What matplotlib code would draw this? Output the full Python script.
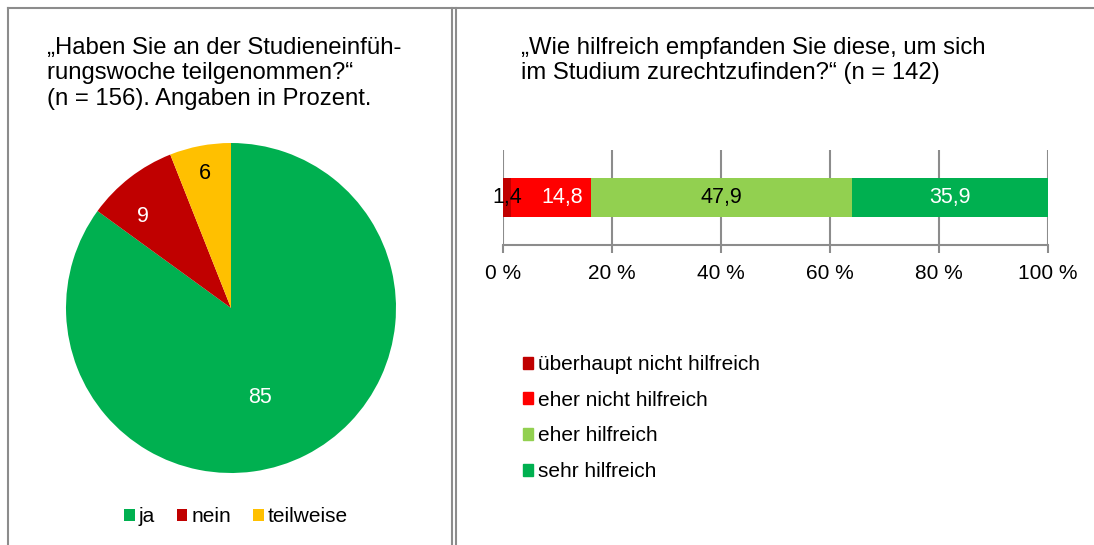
#!/usr/bin/env python
# coding: utf-8
import numpy as np
import matplotlib
matplotlib.use("Agg")
import matplotlib.pyplot as plt
from matplotlib.patches import Patch
from matplotlib.lines import Line2D

plt.rcParams['font.family'] = ['Liberation Sans', 'DejaVu Sans']

# pie data
pie_labels = ["ja", "nein", "teilweise"]
pie_values = [85, 9, 6]
pie_colors = ["#00B050", "#C00000", "#FFC000"]
pie_text_colors = ["white", "white", "black"]

# bar data
bar_labels = ["überhaupt nicht hilfreich", "eher nicht hilfreich",
              "eher hilfreich", "sehr hilfreich"]
bar_values = [1.4, 14.8, 47.9, 35.9]
bar_colors = ["#C00000", "#FF0000", "#92D050", "#00B050"]
bar_text_colors = ["black", "white", "black", "white"]
x_ticks = [0, 20, 40, 60, 80, 100]


def main():
	W, H = 1094, 545
	fig = plt.figure(figsize=(W / 100, H / 100), dpi=100)
	fs = 15
	tfs = 17.2

	def fx(px):
		return px / W

	def fy(py):
		return 1 - py / H

	# panel frames
	gray = "#8c8c8c"
	fig.add_artist(Line2D([fx(8), 1], [fy(8), fy(8)], color=gray, lw=1.5))
	for xp in [8, 452, 456]:
		fig.add_artist(Line2D([fx(xp), fx(xp)], [fy(8), 0], color=gray, lw=1.5))

	# left panel: pie
	fig.text(fx(47), fy(37), "„Haben Sie an der Studieneinfüh-\nrungswoche teilgenommen?“\n(n = 156). Angaben in Prozent.",
		fontsize=tfs, va="top", ha="left", linespacing=1.2)
	r = 165
	ax1 = fig.add_axes([fx(231 - r), fy(308 + r), 2 * r / W, 2 * r / H])
	wedges, _ = ax1.pie(pie_values, colors=pie_colors, startangle=90, counterclock=False,
		wedgeprops=dict(linewidth=0))
	ax1.set_xlim(-1, 1)
	ax1.set_ylim(-1, 1)
	ax1.set_aspect("equal")
	# label placement: radius fraction and angle shift (deg) per slice
	dist = [0.57, 0.77, 0.83]
	dang = [-9, 6, 0]
	for w, v, c, d, da in zip(wedges, pie_values, pie_text_colors, dist, dang):
		ang = np.deg2rad((w.theta1 + w.theta2) / 2 + da)
		ax1.text(d * np.cos(ang), d * np.sin(ang), str(v), color=c, fontsize=fs + 0.5,
			ha="center", va="center")
	fig.legend(wedges, pie_labels, loc="center", bbox_to_anchor=(fx(236), fy(517)), ncol=3,
		frameon=False, fontsize=fs, handlelength=0.5, handleheight=0.5, handletextpad=0.2,
		columnspacing=1.05)

	# right panel: stacked bar
	fig.text(fx(521), fy(37), "„Wie hilfreich empfanden Sie diese, um sich\nim Studium zurechtzufinden?“ (n = 142)",
		fontsize=tfs, va="top", ha="left", linespacing=1.2)
	ax2 = fig.add_axes([fx(503), fy(245), (1048 - 503) / W, 95 / H])
	label_dx = [0, 2, 0, 0]
	left = 0
	handles = []
	for v, c, tc, lab, dx in zip(bar_values, bar_colors, bar_text_colors, bar_labels, label_dx):
		ax2.barh(0.5, v, left=left, height=0.4, color=c, linewidth=0, zorder=3)
		handles.append(Patch(color=c, label=lab))
		ax2.text(left + v / 2 + dx, 0.5, ("%.1f" % v).replace(".", ","), color=tc, fontsize=fs + 0.5,
			ha="center", va="center", zorder=4)
		left += v
	ax2.set_xlim(0, 100)
	ax2.set_ylim(0, 1)
	ax2.set_xticks(x_ticks)
	ax2.set_xticklabels(["%d %%" % t for t in x_ticks], fontsize=fs)
	ax2.set_yticks([])
	ax2.grid(axis="x", color=gray, lw=1.5, zorder=0)
	for s in ["top", "right", "left"]:
		ax2.spines[s].set_visible(False)
	ax2.spines["bottom"].set_color(gray)
	ax2.spines["bottom"].set_linewidth(1.5)
	ax2.tick_params(axis="x", color=gray, width=1.5, length=6, pad=8)
	ax2.patch.set_alpha(0)

	fig.legend(handles=handles, loc="upper left", bbox_to_anchor=(fx(523), fy(355)),
		frameon=False, fontsize=fs, handlelength=0.5, handleheight=0.5, handletextpad=0.2,
		labelspacing=0.8, borderaxespad=0, borderpad=0)

	fig.savefig("out.png", dpi=100)


if __name__ == '__main__':
	main()
